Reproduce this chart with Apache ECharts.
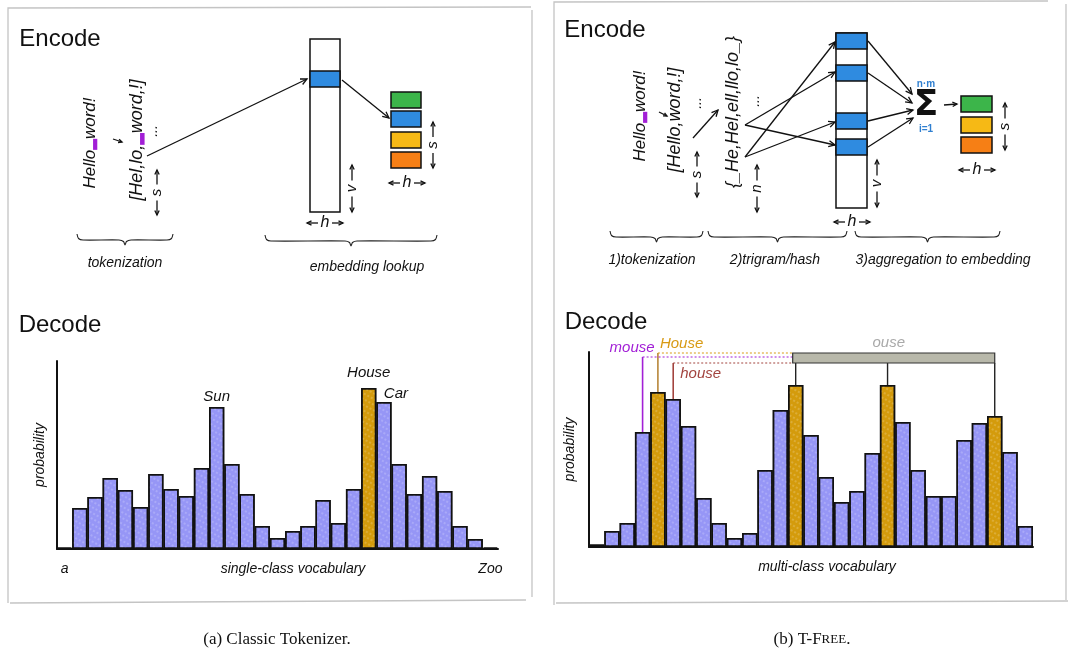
<!DOCTYPE html>
<html><head><meta charset="utf-8">
<script src="https://cdn.jsdelivr.net/npm/echarts@6/dist/echarts.min.js"></script>
<style>html,body{margin:0;padding:0;background:#fff}#c{width:1070px;height:657px}</style>
</head><body><div id="c"></div>
<script>
// ---------- data ----------
const leftCategories = ['a','t01','t02','t03','t04','t05','t06','t07','t08','t09','Sun','t11','t12','t13','t14','t15','t16','t17','t18','t19','House','Car','t22','t23','t24','t25','t26','t27','Zoo'];
const leftValues = [1.5, 41, 52, 71, 59, 42, 75, 60, 53, 81, 142, 85, 55, 23, 11, 18, 23, 49, 26, 60, 161, 147, 85, 55, 73, 58, 23, 10, 1.5];
const leftHighlighted = [20];

const rightCategories = ['m00','m01','m02','mouse','House','house','m06','m07','m08','m09','m10','m11','m12','ous1','m14','m15','m16','m17','m18','ous2','m20','m21','m22','m23','m24','m25','ous3','m27','m28'];
const rightValues = [2.5, 16, 24, 115, 155, 148, 121, 49, 24, 9, 14, 77, 137, 162, 112, 70, 45, 56, 94, 162, 125, 77, 51, 51, 107, 124, 131, 95, 21];
const rightHighlighted = [4, 13, 19, 26];
const ouseGroup = [13, 19, 26];
const ouseText = 'ouse';

const FONT = '"Liberation Sans", "DejaVu Sans", sans-serif';
const BLUE = '#9696f6', ORANGE = '#d49b0c';
const PURPLE = '#a21fd6', HOUSE_OR = '#d89a14', BROWN = '#a3443f';

// ---------- helpers ----------
function line(x1,y1,x2,y2,o){o=o||{};return {type:'line',silent:true,z:5,shape:{x1,y1,x2,y2},style:{stroke:o.color||'#111',lineWidth:o.w||1.3,lineDash:o.dash||null}};}
function arrow(x1,y1,x2,y2,o){o=o||{};const a=Math.atan2(y2-y1,x2-x1),L=o.head||7,s=0.45;
  return [line(x1,y1,x2,y2,o),{type:'polyline',silent:true,z:5,shape:{points:[[x2-L*Math.cos(a-s),y2-L*Math.sin(a-s)],[x2,y2],[x2-L*Math.cos(a+s),y2-L*Math.sin(a+s)]]},style:{stroke:o.color||'#111',lineWidth:o.w||1.3,fill:null}}];}
function txt(x,y,t,o){o=o||{};return {type:'text',x,y,rotation:o.rot||0,silent:true,z:10,style:{text:t,x:0,y:0,fill:o.color||'#111',fontSize:o.size||14,fontStyle:o.style||'italic',fontWeight:o.weight||'normal',fontFamily:o.font||FONT,align:o.align||'center',verticalAlign:o.va||'middle',rich:o.rich||undefined}};}
function rect(x,y,w,h,fill,o){o=o||{};return {type:'rect',silent:true,z:4,shape:{x,y,width:w,height:h},style:{fill:fill,stroke:o.stroke||'#111',lineWidth:o.w||1.5}};}
function vDim(x,yT,yB,label){const m=(yT+yB)/2;return [...arrow(x,m-8,x,yT,{head:5}),...arrow(x,m+8,x,yB,{head:5}),txt(x,m,label,{rot:Math.PI/2,size:15})];}
function hDim(xc,y,label){return [...arrow(xc-7,y,xc-18,y,{head:5}),...arrow(xc+7,y,xc+18,y,{head:5}),txt(xc,y,label,{size:16})];}
function brace(x1,x2,y){const m=(x1+x2)/2;return {type:'polyline',silent:true,z:5,shape:{smooth:0.25,points:[[x1,y-6],[x1+1.5,y-1.5],[x1+6,y],[m-6,y],[m-1.5,y+1.5],[m,y+5],[m+1.5,y+1.5],[m+6,y],[x2-6,y],[x2-1.5,y-1.5],[x2,y-6]]},style:{stroke:'#222',lineWidth:1.1,fill:null}};}
function border(pts){return {type:'polyline',silent:true,z:1,shape:{points:pts},style:{stroke:'#c4c4c4',lineWidth:1.3,fill:null}};}
function richPurple(size){return {p:{fill:PURPLE,fontSize:size-3,fontStyle:'normal',fontFamily:'"DejaVu Sans", sans-serif'}};}

const decal = {symbol:'circle',symbolSize:0.7,color:'rgba(255,255,255,0.5)',dashArrayX:[2,2],dashArrayY:[2,3],rotation:0.5};

// ---------- static diagram ----------
const G = [];
G.push(border([[8,603],[8,8],[531,7]]), border([[532,10],[532,597]]), border([[10,603],[526,600]]));
G.push(border([[554,605],[554,2],[1048,1]]), border([[1066,4],[1066,600]]), border([[556,603],[1068,601]]));
G.push(txt(60,39,'Encode',{size:24,style:'normal'}), txt(605,30,'Encode',{size:24,style:'normal'}));
G.push(txt(60,325,'Decode',{size:24,style:'normal'}), txt(606,322,'Decode',{size:24,style:'normal'}));
// ---- left encode ----
G.push(txt(90,143,'Hello{p|▂}word!',{rot:Math.PI/2,size:17,rich:richPurple(17)}));
G.push(...arrow(113,139,122,142,{head:4}));
G.push(txt(137,140,'[Hel,lo,{p|▂}word,!]',{rot:Math.PI/2,size:18,rich:richPurple(18)}));
G.push(txt(153,131,'...',{rot:Math.PI/2,size:14}));
G.push(...vDim(157,170,215,'s'));
G.push(...arrow(147,156,307,79));
G.push(rect(310,39,30,173,'#fff'), rect(310,71,30,16,'#2f8be0'));
G.push(...vDim(352,165,212,'v'), ...hDim(325,223,'h'));
G.push(...arrow(342,80,389,118));
G.push(rect(391,92,30,16,'#3cb54a'), rect(391,111,30,16,'#2f8be0'), rect(391,132,30,16,'#f6b915'), rect(391,152,30,16,'#f67f15'));
G.push(...vDim(433,122,168,'s'), ...hDim(407,183,'h'));
G.push(brace(77,173,240), txt(125,263,'tokenization',{size:14}));
G.push(brace(265,437,241), txt(367,267,'embedding lookup',{size:14}));
// ---- right encode ----
G.push(txt(640,116,'Hello{p|▂}word!',{rot:Math.PI/2,size:17,rich:richPurple(17)}));
G.push(...arrow(659,112,667,116,{head:4}));
G.push(txt(675,120,'[Hello,word,!]',{rot:Math.PI/2,size:18}));
G.push(txt(697,103,'...',{rot:Math.PI/2,size:14}));
G.push(...vDim(697,152,197,'s'));
G.push(...arrow(693,138,718,110));
G.push(txt(733,112,'{_He,Hel,ell,llo,lo_}',{rot:Math.PI/2,size:18}));
G.push(txt(755,101,'...',{rot:Math.PI/2,size:14}));
G.push(...vDim(757,165,212,'n'));
G.push(...arrow(745,125,835,72), ...arrow(745,125,835,145), ...arrow(745,157,835,42), ...arrow(745,157,835,122));
G.push(rect(836,33,31,175,'#fff'));
[33,65,113,139].forEach(y=>G.push(rect(836,y,31,16,'#2f8be0')));
G.push(...vDim(877,160,207,'v'), ...hDim(852,222,'h'));
G.push(...arrow(868,41,912,94), ...arrow(868,73,912,103), ...arrow(868,121,913,110), ...arrow(868,147,913,118));
G.push(txt(926,106,'Σ',{size:36,style:'normal',weight:'bold',font:'"DejaVu Sans", sans-serif'}));
G.push(txt(926,84,'n·m',{size:10,style:'normal',weight:'bold',color:'#2f7fd0'}), txt(926,129,'i=1',{size:10,style:'normal',weight:'bold',color:'#2f7fd0'}));
G.push(...arrow(944,105,957,104,{head:5}));
G.push(rect(961,96,31,16,'#3cb54a'), rect(961,117,31,16,'#f6b915'), rect(961,137,31,16,'#f67f15'));
G.push(...vDim(1005,103,150,'s'), ...hDim(977,170,'h'));
G.push(brace(610,703,237), txt(652,260,'1)tokenization',{size:14}));
G.push(brace(708,847,237), txt(775,260,'2)trigram/hash',{size:14}));
G.push(brace(855,1000,237), txt(943,260,'3)aggregation to embedding',{size:14}));
// captions
G.push(txt(277,640,'(a) Classic Tokenizer.',{size:17,style:'normal',font:'"Liberation Serif", "DejaVu Serif", serif'}));
G.push(txt(812,640,'(b) T-F{s|REE}.',{size:17,style:'normal',font:'"Liberation Serif", "DejaVu Serif", serif',rich:{s:{fontSize:13,fontFamily:'"Liberation Serif", serif',fill:'#111'}}}));

// ---------- chart ----------
function barData(vals, hi){
  return vals.map((v,i)=>({value:v, itemStyle:{color: hi.includes(i)?ORANGE:BLUE}}));
}
const leftData = barData(leftValues, leftHighlighted);
leftData[leftCategories.indexOf('Sun')].label = {show:true, position:'top', distance:3};
leftData[leftCategories.indexOf('House')].label = {show:true, position:'top', distance:6, offset:[0,-2]};
leftData[leftCategories.indexOf('Car')].label = {show:true, position:'top', distance:1, offset:[12,0]};
const rightData = barData(rightValues, rightHighlighted);

const axisLineStyle = {lineStyle:{color:'#111',width:2}};
const nameStyle = {fontSize:14,fontStyle:'italic',fontFamily:FONT,color:'#111'};
const option = {
  animation:false,
  backgroundColor:'#fff',
  aria:{enabled:true,decal:{show:true}},
  grid:[{left:57,right:572,top:361,bottom:108},{left:589,right:37,top:352,bottom:110}],
  xAxis:[
    {type:'category',gridIndex:0,data:leftCategories,axisLine:axisLineStyle,axisTick:{show:false},
     axisLabel:{interval:0,margin:13,fontSize:14,fontStyle:'italic',fontFamily:FONT,color:'#111',
       formatter:(v,i)=> (i===0||i===leftCategories.length-1)?v:''},
     name:'single-class vocabulary',nameLocation:'middle',nameGap:13,nameMoveOverlap:false,
     nameTextStyle:Object.assign({padding:[0,0,0,31],verticalAlign:'top'},nameStyle)},
    {type:'category',gridIndex:1,data:rightCategories,axisLine:axisLineStyle,axisTick:{show:false},axisLabel:{show:false},
     name:'multi-class vocabulary',nameLocation:'middle',nameGap:13,
     nameTextStyle:Object.assign({padding:[0,0,0,32],verticalAlign:'top'},nameStyle)}
  ],
  yAxis:[
    {type:'value',gridIndex:0,min:0,max:188,axisLine:{show:true,...axisLineStyle},axisTick:{show:false},axisLabel:{show:false},splitLine:{show:false},
     name:'probability',nameLocation:'middle',nameGap:10,nameRotate:90,nameTextStyle:nameStyle},
    {type:'value',gridIndex:1,min:0,max:195,axisLine:{show:true,...axisLineStyle},axisTick:{show:false},axisLabel:{show:false},splitLine:{show:false},
     name:'probability',nameLocation:'middle',nameGap:12,nameRotate:90,nameTextStyle:nameStyle}
  ],
  series:[
    {type:'bar',xAxisIndex:0,yAxisIndex:0,data:leftData,barCategoryGap:'0%',
     itemStyle:{borderColor:'#111',borderWidth:1.5,decal:decal},
     label:{show:false,formatter:'{b}',fontSize:15,fontStyle:'italic',fontFamily:FONT,color:'#111'}},
    {type:'bar',xAxisIndex:1,yAxisIndex:1,data:rightData,barCategoryGap:'0%',
     itemStyle:{borderColor:'#111',borderWidth:1.5,decal:decal}}
  ]
};
const chart = echarts.init(document.getElementById('c'));
chart.setOption(option);

// ---------- annotations tied to the right chart's scales ----------
const px = (i,v)=>chart.convertToPixel({xAxisIndex:1,yAxisIndex:1},[i,v]);
const iM = rightCategories.indexOf('mouse'), iH = rightCategories.indexOf('House'), ih = rightCategories.indexOf('house');
const lvlH = 194, lvlM = 190, lvlh = 184;
const bL = px(ouseGroup[0], lvlH)[0] - 3, bR = px(ouseGroup[ouseGroup.length-1], lvlH)[0];
const yH = px(iH,lvlH)[1], yM = px(iM,lvlM)[1], yh = px(ih,lvlh)[1];
const A = [];
const pMt = px(iM, rightValues[iM]), pHt = px(iH, rightValues[iH]), pht = px(ih, rightValues[ih]);
A.push(line(pMt[0], yM, pMt[0], pMt[1], {color:PURPLE,w:1.6}));
A.push(line(pHt[0], yH, pHt[0], pHt[1], {color:'#b8863a',w:1.6}));
A.push(line(pht[0], yh, pht[0], pht[1], {color:BROWN,w:1.6}));
A.push(line(pHt[0], yH, bL, yH, {color:HOUSE_OR,w:1,dash:[2,2]}));
A.push(line(pMt[0], yM, bL, yM, {color:PURPLE,w:1,dash:[2,2]}));
A.push(line(pht[0], yh, bL, yh, {color:BROWN,w:1,dash:[2,2]}));
A.push({type:'rect',silent:true,z:6,shape:{x:bL,y:yH,width:bR-bL,height:yh-yH},style:{fill:'#b8b8aa',stroke:'#333',lineWidth:1.2}});
ouseGroup.forEach(i=>{const p=px(i,rightValues[i]);A.push(line(p[0],yh,p[0],p[1],{color:'#222',w:1.4}));});
A.push(txt((bL+bR)/2-5, yH-10, ouseText, {color:'#a9a9a9',size:15}));
A.push(txt(pMt[0]+12, yM-9, rightCategories[iM], {color:PURPLE,size:15,align:'right'}));
A.push(txt(pHt[0]+2, yH-9, rightCategories[iH], {color:HOUSE_OR,size:15,align:'left'}));
A.push(txt(pht[0]+7, yh+11, rightCategories[ih], {color:BROWN,size:15,align:'left'}));

chart.setOption({graphic:{elements:G.concat(A)}});
</script></body></html>
